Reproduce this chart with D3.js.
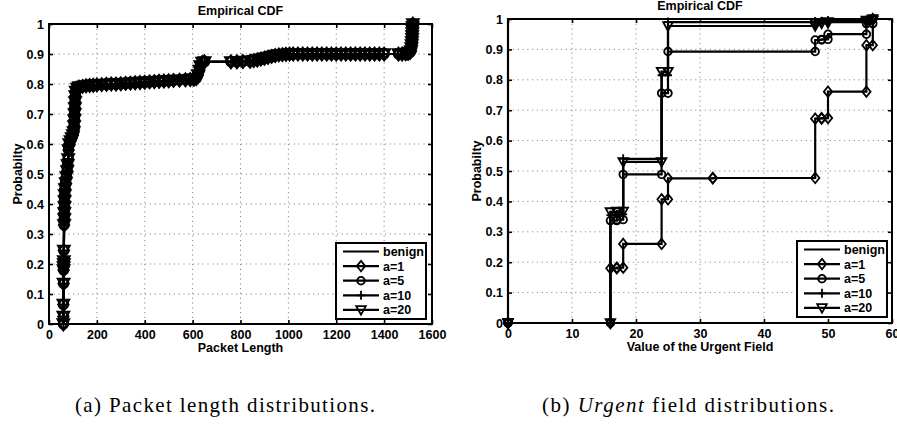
<!DOCTYPE html>
<html>
<head>
<meta charset="utf-8">
<script src="https://cdn.jsdelivr.net/npm/d3@7"></script>
<style>
body { margin: 0; background: #fff; }
svg text { font-family: "Liberation Sans", Arial, sans-serif; font-weight: bold; fill: #000; }
svg text.caption { font-family: "Liberation Serif", "Times New Roman", serif; font-weight: normal; }
</style>
</head>
<body>
<svg id="svg1" width="897" height="424"></svg>
<script>
// ---- data ----
const seriesNames = ["benign", "a=1", "a=5", "a=10", "a=20"];
const markerTypes = [null, "diamond", "circle", "plus", "triangle"];

const probTicks = [0, 0.1, 0.2, 0.3, 0.4, 0.5, 0.6, 0.7, 0.8, 0.9, 1];
const pktTicks = [0, 200, 400, 600, 800, 1000, 1200, 1400, 1600];
const urgTicks = [0, 10, 20, 30, 40, 50, 60];

// (a) packet length CDF, all five curves lie on top of each other
const pktLen = [
    60, 60, 60, 61, 61, 61, 62, 62, 62, 63, 64, 64, 65, 65, 66, 67, 70, 73, 76, 78, 80, 82, 85, 90, 95, 100, 103, 105, 106, 107, 108, 109, 110, 112, 118,
    125, 140, 155, 170, 185, 200, 220, 240, 260, 280, 300, 320, 340, 360, 380, 400, 420, 440, 460, 480, 500, 520, 545, 570, 590, 605,
    615, 622, 628, 632, 640, 650,
    760, 785, 810,
    840, 855, 870, 885, 900, 915, 930, 945, 960, 975, 990,
    1005, 1020, 1040, 1060, 1080, 1100, 1120, 1140, 1160, 1180, 1200, 1220, 1240, 1260, 1280, 1300, 1320, 1340, 1360, 1380, 1400,
    1460, 1475, 1490, 1500, 1508, 1512, 1514, 1515, 1516, 1517, 1517, 1518, 1518, 1519, 1520
];
const pktCdf = [
    0, 0.025, 0.065, 0.135, 0.18, 0.19, 0.2, 0.21, 0.245, 0.33, 0.35, 0.37, 0.39, 0.41, 0.43, 0.45, 0.47, 0.49, 0.51, 0.53, 0.55, 0.58, 0.6, 0.61, 0.62, 0.63, 0.64, 0.66, 0.68, 0.7, 0.72, 0.74, 0.76, 0.775, 0.785,
    0.79, 0.792, 0.794, 0.795, 0.796, 0.797, 0.798, 0.799, 0.8, 0.8, 0.801, 0.802, 0.803, 0.804, 0.805, 0.806, 0.807, 0.808, 0.809, 0.81, 0.811, 0.812, 0.813, 0.814, 0.815, 0.816,
    0.818, 0.83, 0.845, 0.86, 0.872, 0.874,
    0.874, 0.874, 0.875,
    0.876, 0.878, 0.88, 0.883, 0.886, 0.889, 0.892, 0.895, 0.897, 0.898, 0.899,
    0.9, 0.9, 0.9, 0.9, 0.9, 0.9, 0.9, 0.9, 0.9, 0.9, 0.9, 0.9, 0.9, 0.9, 0.9, 0.9, 0.9, 0.9, 0.9, 0.9, 0.9,
    0.9, 0.9, 0.901, 0.902, 0.905, 0.91, 0.92, 0.93, 0.94, 0.95, 0.96, 0.97, 0.98, 0.99, 1
];

// (b) urgent field CDF: step positions and CDF value after each step
const urgBenignX = [0, 57];
const urgBenignC = [1, 1];
const urgA1X = [0, 16, 17, 18, 24, 25, 32, 48, 49, 50, 56, 57];
const urgA1C = [0, 0.18, 0.182, 0.26, 0.407, 0.476, 0.477, 0.672, 0.674, 0.761, 0.914, 1];
const urgA5X = [0, 16, 17, 18, 24, 25, 48, 49, 50, 56, 57];
const urgA5C = [0, 0.337, 0.34, 0.489, 0.756, 0.893, 0.931, 0.933, 0.95, 0.985, 1];
const urgA10X = [0, 16, 17, 18, 24, 25, 48, 49, 50, 56, 57];
const urgA10C = [0, 0.355, 0.357, 0.54, 0.815, 0.99, 0.992, 0.993, 0.995, 0.997, 1];
const urgA20X = [0, 16, 17, 18, 24, 25, 48, 49, 50, 56, 57];
const urgA20C = [0, 0.365, 0.367, 0.53, 0.827, 0.977, 0.986, 0.987, 0.99, 0.995, 1];

// ---- helpers ----
const svg = d3.select("#svg1");

function markerPath(type) {
    if (type === "diamond") return "M0,-5.2L4.2,0L0,5.2L-4.2,0Z";
    if (type === "circle") return "M3.8,0A3.8,3.8 0 1,1 -3.8,0A3.8,3.8 0 1,1 3.8,0Z";
    if (type === "plus") return "M-4,0H4M0,-4.5V4.5";
    if (type === "triangle") return "M-4.8,-3.8L4.8,-3.8L0,4.8Z";
    return "";
}

function zipPoints(xs, cs) {
    return xs.map((x, i) => ({x: x, c: cs[i]}));
}

// corners of a CDF staircase
function stepPoints(xs, cs) {
    const pts = [];
    xs.forEach((x, i) => {
        pts.push({x: x, c: i === 0 ? 0 : cs[i - 1]});
        pts.push({x: x, c: cs[i]});
    });
    return pts;
}

function fmtProb(d) {
    return (d === 0 || d === 1) ? String(d) : d.toFixed(1);
}

function drawPanel(p) {
    const xScale = d3.scaleLinear().domain(p.xDomain).range([p.left, p.right]);
    const yScale = d3.scaleLinear().domain([0, 1]).range([p.bottom, p.top]);
    const g = svg.append("g");

    // dotted grid
    g.append("g").selectAll("line")
        .data(p.xTicks.slice(1, -1))
        .join("line")
        .attr("x1", d => xScale(d)).attr("x2", d => xScale(d))
        .attr("y1", p.top).attr("y2", p.bottom)
        .attr("stroke", "#8a8a8a").attr("stroke-width", 1)
        .attr("stroke-dasharray", "1.2,3.6");

    g.append("g").selectAll("line")
        .data(probTicks.slice(1, -1))
        .join("line")
        .attr("x1", p.left).attr("x2", p.right)
        .attr("y1", d => yScale(d)).attr("y2", d => yScale(d))
        .attr("stroke", "#8a8a8a").attr("stroke-width", 1)
        .attr("stroke-dasharray", "1.2,3.6");

    // curves
    const line = d3.line().x(d => xScale(d.x)).y(d => yScale(d.c));
    p.series.forEach((s, i) => {
        g.append("path")
            .datum(s.points)
            .attr("d", line)
            .attr("fill", "none")
            .attr("stroke", "#000")
            .attr("stroke-width", 2.2)
            .attr("stroke-linejoin", "miter");
        if (markerTypes[i]) {
            g.append("g").selectAll("path")
                .data(s.points)
                .join("path")
                .attr("transform", d => "translate(" + xScale(d.x) + "," + yScale(d.c) + ") scale(" + p.markerScale + ")")
                .attr("d", markerPath(markerTypes[i]))
                .attr("fill", "none")
                .attr("stroke", "#000")
                .attr("stroke-width", 1.8 / p.markerScale);
        }
    });

    // axes, MATLAB style: inward ticks on all four sides
    const clean = sel => sel.select(".domain").remove();
    g.append("g")
        .attr("transform", "translate(0," + p.bottom + ")")
        .call(d3.axisBottom(xScale).tickValues(p.xTicks).tickSize(-4).tickPadding(6).tickFormat(d3.format("d")))
        .call(clean);
    g.append("g")
        .attr("transform", "translate(0," + p.top + ")")
        .call(d3.axisTop(xScale).tickValues(p.xTicks).tickSize(-4).tickFormat(""))
        .call(clean);
    g.append("g")
        .attr("transform", "translate(" + p.left + ",0)")
        .call(d3.axisLeft(yScale).tickValues(probTicks).tickSize(-4).tickPadding(5).tickFormat(fmtProb))
        .call(clean);
    g.append("g")
        .attr("transform", "translate(" + p.right + ",0)")
        .call(d3.axisRight(yScale).tickValues(probTicks).tickSize(-4).tickFormat(""))
        .call(clean);
    g.selectAll(".tick line").attr("stroke-width", 1.6);
    g.selectAll(".tick text").attr("font-size", 12.5);

    g.append("rect")
        .attr("x", p.left).attr("y", p.top)
        .attr("width", p.right - p.left).attr("height", p.bottom - p.top)
        .attr("fill", "none").attr("stroke", "#000").attr("stroke-width", 2);

    // labels
    g.append("text")
        .attr("x", (p.left + p.right) / 2).attr("y", p.top - 9)
        .attr("text-anchor", "middle").attr("font-size", 12.5)
        .text("Empirical CDF");

    g.append("text")
        .attr("x", (p.left + p.right) / 2).attr("y", p.bottom + 28)
        .attr("text-anchor", "middle").attr("font-size", 12.5)
        .text(p.xLabel);

    g.append("text")
        .attr("transform", "translate(" + (p.left - 27) + "," + ((p.top + p.bottom) / 2) + ") rotate(-90)")
        .attr("text-anchor", "middle").attr("font-size", 12.5)
        .text("Probabilty");

    // legend
    const lg = g.append("g").attr("transform", "translate(" + p.legend[0] + "," + p.legend[1] + ")");
    lg.append("rect")
        .attr("width", 90).attr("height", 76)
        .attr("fill", "#fff").attr("stroke", "#000").attr("stroke-width", 2);
    seriesNames.forEach((name, i) => {
        const yy = 8.5 + i * 14.6;
        lg.append("line")
            .attr("x1", 7).attr("x2", 43).attr("y1", yy).attr("y2", yy)
            .attr("stroke", "#000").attr("stroke-width", 2.2);
        if (markerTypes[i]) {
            lg.append("path")
                .attr("transform", "translate(25," + yy + ")")
                .attr("d", markerPath(markerTypes[i]))
                .attr("fill", "none").attr("stroke", "#000").attr("stroke-width", 1.8);
        }
        lg.append("text")
            .attr("x", 47).attr("y", yy + 4.5)
            .attr("font-size", 12.5)
            .text(name);
    });
}

drawPanel({
    left: 49, right: 432, top: 24, bottom: 324,
    xDomain: [0, 1600], xTicks: pktTicks, xLabel: "Packet Length",
    legend: [336, 243], markerScale: 1.25,
    series: seriesNames.map(() => ({points: zipPoints(pktLen, pktCdf)}))
});

drawPanel({
    left: 508, right: 892, top: 19, bottom: 323,
    xDomain: [0, 60], xTicks: urgTicks, xLabel: "Value of the Urgent Field",
    legend: [797, 241], markerScale: 1,
    series: [
        {points: stepPoints(urgBenignX, urgBenignC)},
        {points: stepPoints(urgA1X, urgA1C)},
        {points: stepPoints(urgA5X, urgA5C)},
        {points: stepPoints(urgA10X, urgA10C)},
        {points: stepPoints(urgA20X, urgA20C)}
    ]
});

// sub-figure captions
svg.append("text")
    .attr("class", "caption")
    .attr("x", 75).attr("y", 412)
    .attr("font-size", 21)
    .attr("textLength", 300).attr("lengthAdjust", "spacing")
    .text("(a) Packet length distributions.");

const capB = svg.append("text")
    .attr("class", "caption")
    .attr("x", 542).attr("y", 412)
    .attr("font-size", 21)
    .attr("textLength", 292).attr("lengthAdjust", "spacing");
capB.append("tspan").text("(b) ");
capB.append("tspan").attr("font-style", "italic").text("Urgent");
capB.append("tspan").text(" field distributions.");
</script>
</body>
</html>
